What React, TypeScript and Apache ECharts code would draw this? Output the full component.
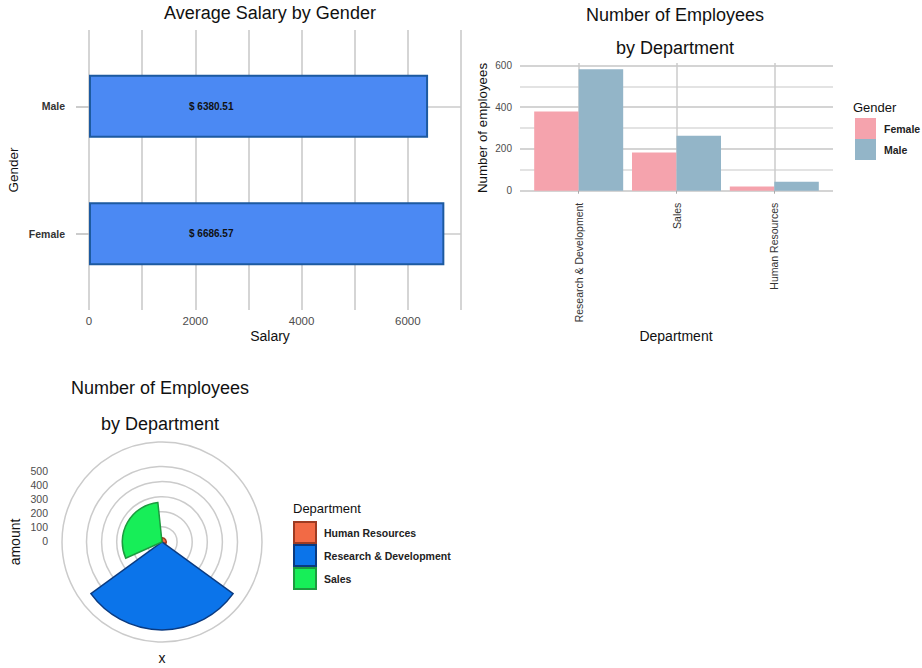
import React, { useEffect, useRef } from 'react';
import * as echarts from 'echarts';

// ---- data ----
const genders = ['Female', 'Male'];
const avgSalary = [6686.57, 6380.51];

const departments = ['Research & Development', 'Sales', 'Human Resources'];
const femaleCounts = [379, 183, 20];
const maleCounts = [582, 263, 43];

const polarDepartments = ['Human Resources', 'Research & Development', 'Sales'];
const polarAmounts = [28, 582, 263];

// ---- styling ----
const FONT = '"Liberation Sans", Arial, sans-serif';
const GRID_COLOR = '#cbcbcb';
const polarColors = ['#f26a45', '#0b74ea', '#17ee58'];
const polarBorders = ['#9e3b22', '#0a3a80', '#1d9a3f'];

// padded slot positions (ggplot-like discrete expansion)
const genderSlots = [3, 8]; // 12 slots
const deptSlots = [3, 8, 13]; // 17 slots

function padCats(n: number, slots: number[], names: string[]) {
  const arr: string[] = Array.from({ length: n }, () => '');
  slots.forEach((s, i) => (arr[s] = names[i]));
  return arr;
}
function padData(n: number, slots: number[], vals: number[]) {
  const arr: (number | string)[] = Array.from({ length: n }, () => '-');
  slots.forEach((s, i) => (arr[s] = vals[i]));
  return arr;
}

function txt(x: number, y: number, text: string, size: number, opts: any = {}) {
  return {
    type: 'text',
    x,
    y,
    rotation: opts.rotation || 0,
    style: {
      text,
      fontSize: size,
      fontFamily: FONT,
      fontWeight: opts.weight || 'normal',
      fill: opts.color || '#111',
      align: opts.align || 'center',
      verticalAlign: 'middle',
    },
  };
}

export default function App() {
  const ref = useRef<HTMLDivElement>(null);

  useEffect(() => {
    if (!ref.current) return;
    const chart = echarts.init(ref.current, undefined, { renderer: 'svg' });

    const genderCats = padCats(12, genderSlots, genders);
    const salaryData = padData(12, genderSlots, avgSalary);
    const deptCats = padCats(17, deptSlots, departments);
    const femaleData = padData(17, deptSlots, femaleCounts);
    const maleData = padData(17, deptSlots, maleCounts);
    const isGenderSlot = (i: number) => genderSlots.indexOf(i) >= 0;
    const isDeptSlot = (i: number) => deptSlots.indexOf(i) >= 0;

    const option: any = {
      animation: false,
      backgroundColor: '#ffffff',
      textStyle: { fontFamily: FONT },
      grid: [
        { left: 89, top: 30, width: 372, height: 280 },
        { left: 520, top: 63, width: 313, height: 127.7 },
        { left: 50, top: 471, width: 1, height: 70 },
      ],
      xAxis: [
        {
          gridIndex: 0,
          type: 'value',
          min: 0,
          max: 7000,
          interval: 1000,
          axisLine: { show: false },
          axisTick: { show: false },
          axisLabel: {
            fontSize: 11.5,
            color: '#4d4d4d',
            margin: 5,
            formatter: (v: number) => (v % 2000 === 0 && v < 7000 ? String(v) : ''),
          },
          splitLine: { show: true, showMaxLine: true, showMinLine: true, lineStyle: { color: GRID_COLOR, width: 1.6 } },
        },
        {
          gridIndex: 1,
          type: 'category',
          boundaryGap: false,
          data: deptCats,
          axisLine: { show: false },
          axisTick: { show: true, length: 3, interval: (i: number) => isDeptSlot(i), lineStyle: { color: '#aaaaaa' } },
          axisLabel: { interval: 0, rotate: 90, fontSize: 10.5, color: '#333', margin: 12 },
          splitLine: { show: true, interval: (i: number) => isDeptSlot(i), lineStyle: { color: GRID_COLOR, width: 1.5 } },
        },
        { gridIndex: 2, type: 'value', show: false, min: 0, max: 1 },
      ],
      yAxis: [
        {
          gridIndex: 0,
          type: 'category',
          boundaryGap: false,
          data: genderCats,
          axisLine: { show: false },
          axisTick: { show: true, length: 13, interval: (i: number) => isGenderSlot(i), lineStyle: { color: '#bbbbbb', width: 1.5 } },
          axisLabel: { interval: 0, fontSize: 10.5, fontWeight: 'bold', color: '#333', margin: 24 },
          splitLine: { show: true, interval: (i: number) => isGenderSlot(i), lineStyle: { color: GRID_COLOR, width: 1.6 } },
        },
        {
          gridIndex: 1,
          type: 'value',
          min: 0,
          max: 612,
          interval: 100,
          axisLine: { show: false },
          axisTick: { show: false },
          axisLabel: {
            fontSize: 10,
            color: '#4d4d4d',
            margin: 8,
            formatter: (v: number) => (v % 200 === 0 && v <= 600 ? String(v) : ''),
          },
          splitLine: { show: true, showMaxLine: false, lineStyle: { color: ['#c6c6c6', '#dadada'], width: 1.5 } },
        },
        {
          gridIndex: 2,
          type: 'value',
          min: 0,
          max: 500,
          interval: 100,
          axisLine: { show: false },
          axisTick: { show: false },
          splitLine: { show: false },
          axisLabel: { fontSize: 10.5, color: '#4d4d4d', margin: 2 },
        },
      ],
      polar: [
        { center: [162, 542], radius: 100 },
        { center: [162, 542], radius: 75.5 },
      ],
      angleAxis: [
        {
          polarIndex: 0,
          type: 'category',
          data: polarDepartments,
          startAngle: 90,
          clockwise: true,
          axisLine: { show: true, lineStyle: { color: GRID_COLOR, width: 1.5 } },
          axisTick: { show: false },
          axisLabel: { show: false },
          splitLine: { show: false },
        },
        { polarIndex: 1, type: 'value', min: 0, max: 360, show: false },
      ],
      radiusAxis: [
        {
          polarIndex: 0,
          type: 'value',
          min: 0,
          max: 662,
          axisLine: { show: false },
          axisTick: { show: false },
          axisLabel: { show: false },
          splitLine: { show: false },
        },
        {
          polarIndex: 1,
          type: 'value',
          min: 0,
          max: 500,
          interval: 100,
          axisLine: { show: false },
          axisTick: { show: false },
          axisLabel: { show: false },
          splitLine: { show: true, lineStyle: { color: GRID_COLOR, width: 1.5 } },
        },
      ],
      legend: [
        {
          data: genders,
          orient: 'vertical',
          left: 855,
          top: 118,
          padding: 0,
          itemWidth: 21,
          itemHeight: 21,
          itemGap: 0,
          icon: 'rect',
          selectedMode: false,
          textStyle: { fontSize: 10.5, fontWeight: 'bold', color: '#222', padding: [0, 0, 0, 3] },
        },
        {
          data: polarDepartments,
          orient: 'vertical',
          left: 293,
          top: 521,
          padding: 0,
          itemWidth: 22,
          itemHeight: 21,
          itemGap: 0,
          icon: 'rect',
          selectedMode: false,
          textStyle: { fontSize: 10.5, fontWeight: 'bold', color: '#222', padding: [0, 0, 0, 3] },
        },
      ],
      series: [
        {
          type: 'bar',
          name: 'Average Salary',
          xAxisIndex: 0,
          yAxisIndex: 0,
          data: salaryData,
          barWidth: 63,
          itemStyle: { color: '#4b89f3', borderColor: '#1d5aa0', borderWidth: 2 },
          label: {
            show: true,
            position: [100, '50%'],
            align: 'left',
            verticalAlign: 'middle',
            fontSize: 10,
            fontWeight: 'bold',
            color: '#111',
            formatter: (p: any) => '$ ' + Number(p.value).toFixed(2),
          },
        },
        {
          type: 'bar',
          name: 'Female',
          xAxisIndex: 1,
          yAxisIndex: 1,
          data: femaleData,
          barWidth: 44.5,
          barGap: '0%',
          itemStyle: { color: '#f5a3ad' },
        },
        {
          type: 'bar',
          name: 'Male',
          xAxisIndex: 1,
          yAxisIndex: 1,
          data: maleData,
          barWidth: 44.5,
          barGap: '0%',
          itemStyle: { color: '#93b5c8' },
        },
        ...polarDepartments.map((d, i) => ({
          type: 'bar',
          name: d,
          coordinateSystem: 'polar',
          polarIndex: 0,
          barGap: '-100%',
          barCategoryGap: '10%',
          data: polarDepartments.map((_, j) => (j === i ? polarAmounts[i] : '-')),
          itemStyle: { color: polarColors[i], borderColor: polarBorders[i], borderWidth: 1.5 },
        })),
      ],
      graphic: [
        txt(270, 13, 'Average Salary by Gender', 18),
        txt(270, 336, 'Salary', 14),
        txt(13, 170, 'Gender', 13.5, { rotation: Math.PI / 2 }),
        txt(675, 15, 'Number of Employees', 18),
        txt(675, 48, 'by Department', 18),
        txt(482, 128, 'Number of employees', 13.3, { rotation: Math.PI / 2 }),
        txt(676, 336, 'Department', 14),
        txt(853, 107, 'Gender', 13, { align: 'left' }),
        txt(160, 388, 'Number of Employees', 18),
        txt(160, 424, 'by Department', 18),
        txt(15, 542, 'amount', 14, { rotation: Math.PI / 2 }),
        txt(162, 658, 'x', 14),
        txt(293, 508, 'Department', 13, { align: 'left' }),
      ],
    };

    chart.setOption(option);
    return () => chart.dispose();
  }, []);

  return (
    <div
      ref={ref}
      style={{ position: 'absolute', left: 0, top: 0, width: 922, height: 668, background: '#fff' }}
    />
  );
}
